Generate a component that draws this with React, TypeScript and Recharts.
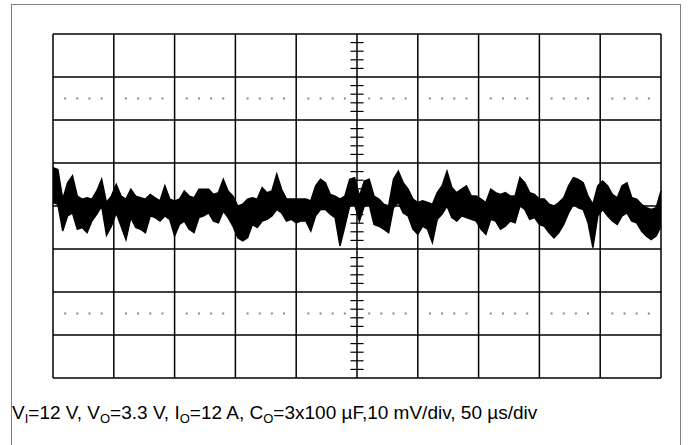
import React from "react";
import {
  ComposedChart,
  Area,
  Scatter,
  XAxis,
  YAxis,
  CartesianGrid,
  ReferenceLine,
} from "recharts";

// time base: 50 us/div, 10 divisions
const TIME_US = [
  0, 4, 8, 12, 16, 20, 24, 28, 32, 36, 40, 44, 48, 52, 56, 60, 64, 68, 72, 76,
  80, 84, 88, 92, 96, 100, 104, 108, 112, 116, 120, 124, 128, 132, 136, 140,
  144, 148, 152, 156, 160, 164, 168, 172, 176, 180, 184, 188, 192, 196, 200,
  204, 208, 212, 216, 220, 224, 228, 232, 236, 240, 244, 248, 252, 256, 260,
  264, 268, 272, 276, 280, 284, 288, 292, 296, 300, 304, 308, 312, 316, 320,
  324, 328, 332, 336, 340, 344, 348, 352, 356, 360, 364, 368, 372, 376, 380,
  384, 388, 392, 396, 400, 404, 408, 412, 416, 420, 424, 428, 432, 436, 440,
  444, 448, 452, 456, 460, 464, 468, 472, 476, 480, 484, 488, 492, 496, 500,
];

// ripple envelope, mV (10 mV/div)
const RIPPLE_HI = [
  8.9, 8.5, 1.6, 5.4, 7.0, 2.3, 1.6, 1.9, 1.6, 3.5, 6.2, 0.8, 2.3, 5.0, 2.3,
  1.6, 3.9, 2.3, 1.9, 1.6, 2.7, 1.9, 1.2, 4.7, 1.6, 1.2, 1.6, 3.5, 2.3, 1.9,
  3.9, 3.9, 3.9, 2.7, 3.1, 6.2, 3.5, 2.3, 0, 0.4, 1.6, 1.9, 1.6, 4.3, 3.1, 3.5,
  7.4, 3.9, 1.6, 1.6, 1.6, 1.6, 1.6, 1.2, 4.7, 6.2, 5.4, 2.7, 2.3, 1.6, 2.3,
  6.2, 6.6, 2.3, 5.8, 6.2, 2.3, 1.6, 0.4, 0, 6.2, 8.1, 5.4, 3.9, 1.6, 0.8, 1.2,
  0.8, 0.4, 3.1, 4.7, 8.1, 4.3, 3.1, 3.9, 4.7, 2.3, 2.3, 1.6, 0.8, 3.9, 3.1,
  2.7, 3.1, 2.3, 2.3, 6.6, 5.4, 3.1, 2.7, 1.6, 1.6, 0.4, 0, 0.8, 1.9, 4.7, 6.6,
  6.2, 5.4, 2.3, 0.4, 4.7, 5.8, 4.7, 2.7, 1.9, 4.7, 5.4, 1.9, 1.6, 0.4, -0.4,
  -0.8, -0.4, 3.5,
];

const RIPPLE_LO = [
  0.8, 0.4, -5.8, -2.3, -1.6, -5.4, -5.0, -6.2, -3.5, -1.9, 0, -6.8, -4.7,
  -1.6, -4.7, -7.8, -2.7, -5.0, -5.4, -6.2, -2.3, -2.7, -3.5, -2.3, -3.1, -7.0,
  -4.3, -3.5, -5.4, -6.2, -2.7, -2.3, -1.6, -3.5, -3.9, -1.2, -2.7, -4.7, -7.4,
  -8.1, -7.4, -4.3, -5.0, -3.5, -3.1, -2.3, -0.8, -1.6, -3.5, -3.1, -3.9, -3.5,
  -3.5, -5.8, -2.3, -0.8, -0.8, -1.9, -2.7, -9.3, -4.7, 0, 0.4, -3.5, 0, 0.4,
  -4.3, -4.7, -5.4, -6.2, -0.4, 0.8, -1.6, -2.3, -5.4, -6.6, -4.7, -5.4, -8.5,
  -3.1, -1.9, 0, -2.7, -3.5, -2.3, -2.7, -3.1, -3.5, -5.4, -6.6, -3.1, -3.5,
  -5.4, -4.7, -3.5, -3.9, 0, -0.8, -3.1, -2.7, -4.3, -4.7, -6.2, -7.4, -6.2,
  -4.3, -1.6, 0.4, -0.4, -0.8, -3.9, -9.7, -2.3, -0.8, -2.3, -3.5, -4.3, -2.3,
  -1.6, -3.5, -3.9, -5.8, -7.0, -7.8, -7.0, -4.7,
];

const X_DIVS = [0, 50, 100, 150, 200, 250, 300, 350, 400, 450, 500];
const Y_DIVS = [-40, -30, -20, -10, 0, 10, 20, 30, 40];
const CENTER_MINOR = [
  -38, -36, -34, -32, -28, -26, -24, -22, -18, -16, -14, -12, -8, -6, -4, -2,
  2, 4, 6, 8, 12, 14, 16, 18, 22, 24, 26, 28, 32, 34, 36, 38,
];
const DOT_ROWS = [25, -25];
const DOT_OFFSETS = [10, 20, 30, 40];

const data = TIME_US.map((t, i) => ({
  t,
  ripple: [RIPPLE_LO[i], RIPPLE_HI[i]],
}));

const dots = DOT_ROWS.flatMap((y) =>
  X_DIVS.slice(0, 10).flatMap((x0) => DOT_OFFSETS.map((o) => ({ t: x0 + o, v: y })))
);

const Dot = (props: any) => (
  <rect x={props.cx - 1} y={props.cy - 1} width={2} height={2} fill="#888" />
);

const sub: React.CSSProperties = { fontSize: 13, position: "relative", top: 4 };

export default function App() {
  return (
    <div style={{ position: "absolute", left: 0, top: 0, width: 691, height: 445, background: "#fff", overflow: "hidden" }}>
      <div
        style={{
          position: "absolute",
          left: 11,
          top: 4,
          width: 668,
          height: 460,
          border: "1px solid #808080",
        }}
      />
      <ComposedChart
        width={691}
        height={445}
        data={data}
        margin={{ top: 34, right: 30, bottom: 67, left: 53 }}
        style={{ position: "absolute", left: 0, top: 0 }}
      >
        <XAxis dataKey="t" type="number" domain={[0, 500]} ticks={X_DIVS} hide />
        <YAxis type="number" domain={[-40, 40]} ticks={Y_DIVS} hide />
        <CartesianGrid stroke="#000" strokeWidth={1.5} />
        {CENTER_MINOR.map((v) => (
          <ReferenceLine
            key={v}
            segment={[
              { x: 244.6, y: v },
              { x: 255.4, y: v },
            ]}
            stroke="#000"
            strokeWidth={1.2}
          />
        ))}
        <Scatter data={dots} dataKey="v" shape={<Dot />} isAnimationActive={false} />
        <Area
          type="linear"
          dataKey="ripple"
          stroke="#000"
          strokeWidth={1.5}
          fill="#000"
          fillOpacity={1}
          dot={false}
          activeDot={false}
          isAnimationActive={false}
        />
      </ComposedChart>
      <div
        style={{
          position: "absolute",
          left: 12,
          top: 403,
          lineHeight: "20px",
          fontFamily: "'Liberation Sans', Arial, sans-serif",
          fontSize: 19,
          color: "#000",
          whiteSpace: "nowrap",
        }}
      >
        V<span style={sub}>I</span>=12 V, V<span style={sub}>O</span>=3.3 V, I
        <span style={sub}>O</span>=12 A, C<span style={sub}>O</span>=3x100 µF,10 mV/div, 50 µs/div
      </div>
    </div>
  );
}
